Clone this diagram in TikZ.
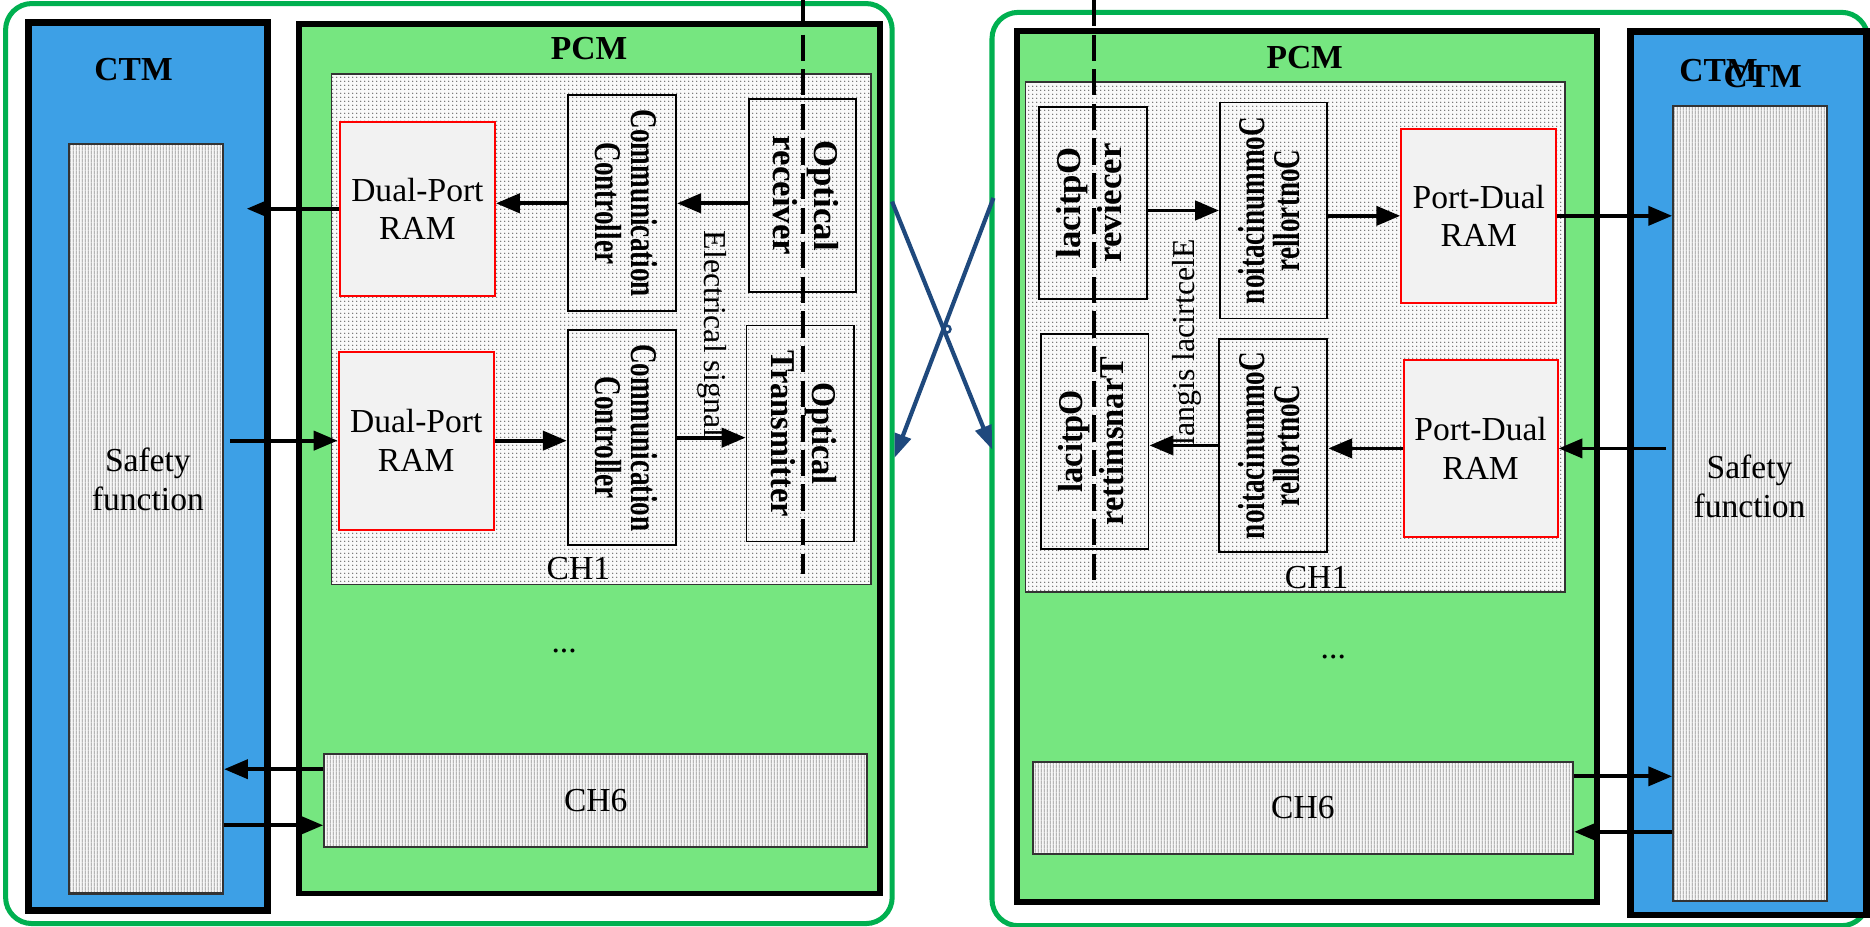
\documentclass[tikz,border=0pt]{standalone}
\usepackage{fontspec}
\setmainfont{Liberation Serif}
\usetikzlibrary{arrows.meta,patterns,positioning}

\definecolor{ctmblue}{HTML}{3DA0E6}
\definecolor{pcmgreen}{HTML}{76E680}
\definecolor{framegreen}{HTML}{00B050}
\definecolor{crossblue}{HTML}{1F497D}

% fine textures for the channel and safety blocks
\pgfdeclarepatternformonly{finedots}{\pgfqpoint{0pt}{0pt}}{\pgfqpoint{1pt}{1pt}}{\pgfqpoint{1pt}{1pt}}{%
  \pgfpathcircle{\pgfqpoint{0.5pt}{0.5pt}}{0.2pt}\pgfusepath{fill}}
\pgfdeclarepatternformonly{finelines}{\pgfqpoint{0pt}{0pt}}{\pgfqpoint{0.75pt}{1pt}}{\pgfqpoint{0.75pt}{1pt}}{%
  \pgfsetlinewidth{0.2pt}\pgfpathmoveto{\pgfqpoint{0.375pt}{0pt}}\pgfpathlineto{\pgfqpoint{0.375pt}{1pt}}\pgfusepath{stroke}}

\newcommand{\turned}[3]{\rotatebox{#1}{\scalebox{#2}[1]{\begin{tabular}{@{}c@{}}#3\end{tabular}}}}

\begin{document}
\begin{tikzpicture}[x=0.01cm, y=-0.01cm,
    frame/.style={draw=framegreen, line width=1.2pt, rounded corners=0.22cm, inner sep=0pt},
    ctm/.style={draw=black, line width=1.6pt, fill=ctmblue, inner sep=0pt},
    pcm/.style={draw=black, line width=1.4pt, fill=pcmgreen, inner sep=0pt},
    chan/.style={draw=black!80, line width=0.4pt, preaction={fill=gray!5}, pattern=finedots, pattern color=black!70, inner sep=0pt},
    hatch/.style={draw=black!80, line width=0.5pt, preaction={fill=gray!6}, pattern=finelines, pattern color=gray!85, inner sep=0pt},
    ram/.style={draw=red, line width=0.5pt, fill=gray!10, inner sep=0pt, align=center, font=\fontsize{8}{9.2}\selectfont},
    unit/.style={draw=black, line width=0.45pt, inner sep=0pt},
    lab/.style={align=center, font=\fontsize{8}{9.4}\selectfont},
    title/.style={font=\bfseries\fontsize{8}{9}\selectfont},
    cc/.style={unit, font=\bfseries\fontsize{9}{7.2}\selectfont},
    opt/.style={unit, font=\bfseries\fontsize{8.3}{9.8}\selectfont},
    arrow/.style={-{Triangle[length=0.2cm,width=0.16cm]}, line width=0.9pt},
    fiber/.style={line width=1pt, dash pattern=on 0.22cm off 0.07cm},
    cross/.style={-{Triangle[length=0.2cm,width=0.14cm]}, draw=crossblue, line width=1pt}]

    \useasboundingbox (0,0) rectangle (1568,777);

    % ---------- left side ----------
    \node[frame, minimum width=7.43cm, minimum height=7.71cm] (frameL) at (376.4,388.7) {};
    \node[ctm, minimum width=2.00cm, minimum height=7.44cm] (ctmL) at (124,391) {};
    \node[title] (ctmLlab) at (112,58) {CTM};
    \node[hatch, minimum width=1.29cm, minimum height=6.28cm] (safeL) at (122.5,435) {};
    \node[lab] (safeLtxt) at (124,402) {Safety\\function};

    \node[pcm, minimum width=4.87cm, minimum height=7.29cm] (pcmL) at (494.5,384.5) {};
    \node[title] (pcmLlab) at (494,41) {PCM};
    \node[chan, minimum width=4.52cm, minimum height=4.28cm] (ch1L) at (504,276) {};
    \node[lab] (ch1Llab) at (485,477) {CH1};

    \node[ram, minimum width=1.30cm, minimum height=1.46cm] (ramLa) at (350,175) {Dual-Port\\RAM};
    \node[cc, minimum width=0.91cm, minimum height=1.81cm] (ccLa) at (521.5,170.5) {\turned{-90}{0.72}{Communication\\Controller}};
    \node[opt, minimum width=0.90cm, minimum height=1.62cm] (orL) at (673,164) {\turned{-90}{1}{Optical\\receiver}};
    \node[ram, minimum width=1.30cm, minimum height=1.49cm] (ramLb) at (349,369.5) {Dual-Port\\RAM};
    \node[cc, minimum width=0.91cm, minimum height=1.80cm] (ccLb) at (521.5,367) {\turned{-90}{0.72}{Communication\\Controller}};
    \node[opt, minimum width=0.90cm, minimum height=1.81cm] (otL) at (671,363.5) {\turned{-90}{0.93}{Optical\\Transmitter}};
    \node[font=\fontsize{7.6}{9}\selectfont] (elecL) at (597,280) {\rotatebox{-90}{Electrical signal}};

    \node[lab] (dotsL) at (473,546) {...};
    \node[hatch, minimum width=4.55cm, minimum height=0.78cm, font=\fontsize{8}{9}\selectfont] (ch6L) at (499.5,671) {CH6};

    \coordinate (fibLa) at (673,0);
    \coordinate (fibLb) at (673,481);
    \draw[fiber] (fibLa) -- (fibLb);

    \draw[arrow] (orL.west |- ccLa.east) -- (ccLa.east);
    \draw[arrow] (ccLa.west) -- (ccLa.west -| ramLa.east);
    \draw[arrow, shorten >=0.19cm] (ramLa.west) -- (ramLa.west -| safeL.east);
    \draw[arrow, shorten <=0.05cm] (safeL.east |- ramLb.west) -- (ramLb.west);
    \draw[arrow] (ramLb.east) -- (ramLb.east -| ccLb.west);
    \draw[arrow] (ccLb.east) -- (ccLb.east -| otL.west);
    \draw[arrow] ([yshift=0.26cm]ch6L.west) -- ([yshift=0.26cm]ch6L.west -| safeL.east);
    \draw[arrow] ([yshift=-0.21cm]ch6L.west -| safeL.east) -- ([yshift=-0.21cm]ch6L.west);

    % ---------- right side ----------
    \node[frame, minimum width=7.34cm, minimum height=7.654cm] (frameR) at (1199,393.3) {};
    \node[ctm, minimum width=1.98cm, minimum height=7.405cm] (ctmR) at (1466,396.75) {};
    \node[title] (ctmRa) at (1441,59.5) {CTM};
    \node[title] (ctmRb) at (1478,64.5) {CTM};
    \node[hatch, minimum width=1.29cm, minimum height=6.66cm] (safeR) at (1467.5,422) {};
    \node[lab] (safeRtxt) at (1467,408) {Safety\\function};

    \node[pcm, minimum width=4.86cm, minimum height=7.295cm] (pcmR) at (1096,391.25) {};
    \node[title] (pcmRlab) at (1094,48) {PCM};
    \node[chan, minimum width=4.52cm, minimum height=4.27cm] (ch1R) at (1086,282.5) {};
    \node[lab] (ch1Rlab) at (1104,484) {CH1};

    \node[opt, minimum width=0.91cm, minimum height=1.615cm] (orR) at (916.5,170.25) {\turned{90}{1}{lacitpO\\reviecer}};
    \node[cc, minimum width=0.90cm, minimum height=1.81cm] (ccRa) at (1068,176.5) {\turned{90}{0.72}{noitacinummoC\\rellortnoC}};
    \node[ram, minimum width=1.30cm, minimum height=1.46cm] (ramRa) at (1240,181) {Port-Dual\\RAM};
    \node[opt, minimum width=0.90cm, minimum height=1.80cm] (otR) at (918,370) {\turned{90}{0.93}{lacitpO\\rettimsnarT}};
    \node[cc, minimum width=0.91cm, minimum height=1.79cm] (ccRb) at (1067.5,373.5) {\turned{90}{0.72}{noitacinummoC\\rellortnoC}};
    \node[ram, minimum width=1.29cm, minimum height=1.48cm] (ramRb) at (1241.5,376) {Port-Dual\\RAM};
    \node[font=\fontsize{7.6}{9}\selectfont] (elecR) at (995,287) {\rotatebox{90}{langis lacirtcelE}};

    \node[lab] (dotsR) at (1118,551) {...};
    \node[hatch, minimum width=4.53cm, minimum height=0.77cm, font=\fontsize{8}{9}\selectfont] (ch6R) at (1092.5,677.5) {CH6};

    \coordinate (fibRa) at (917,0);
    \coordinate (fibRb) at (917,486);
    \draw[fiber] (fibRa) -- (fibRb);

    \draw[arrow] (orR.east |- ccRa.west) -- (ccRa.west);
    \draw[arrow] (ccRa.east |- ramRa.west) -- (ramRa.west);
    \draw[arrow] (ramRa.east) -- (ramRa.east -| safeR.west);
    \draw[arrow, shorten <=0.05cm] (safeR.west |- ramRb.east) -- (ramRb.east);
    \draw[arrow] (ramRb.west) -- (ramRb.west -| ccRb.east);
    \draw[arrow] (ccRb.west) -- (ccRb.west -| otR.east);
    \draw[arrow] ([yshift=0.265cm]ch6R.east) -- ([yshift=0.265cm]ch6R.east -| safeR.west);
    \draw[arrow] ([yshift=-0.2cm]ch6R.east -| safeR.west) -- ([yshift=-0.2cm]ch6R.east);

    % ---------- crossed optical links ----------
    \coordinate (linkLa) at (748,169);
    \coordinate (linkRb) at (832,377);
    \coordinate (linkRa) at (833,166);
    \coordinate (linkLb) at (750,384);
    \draw[cross] (linkLa) -- (linkRb);
    \draw[cross] (linkRa) -- (linkLb);
    \node[circle, draw=crossblue, line width=0.6pt, minimum size=0.06cm, inner sep=0pt] (hop) at (794,276) {};
\end{tikzpicture}
\end{document}
